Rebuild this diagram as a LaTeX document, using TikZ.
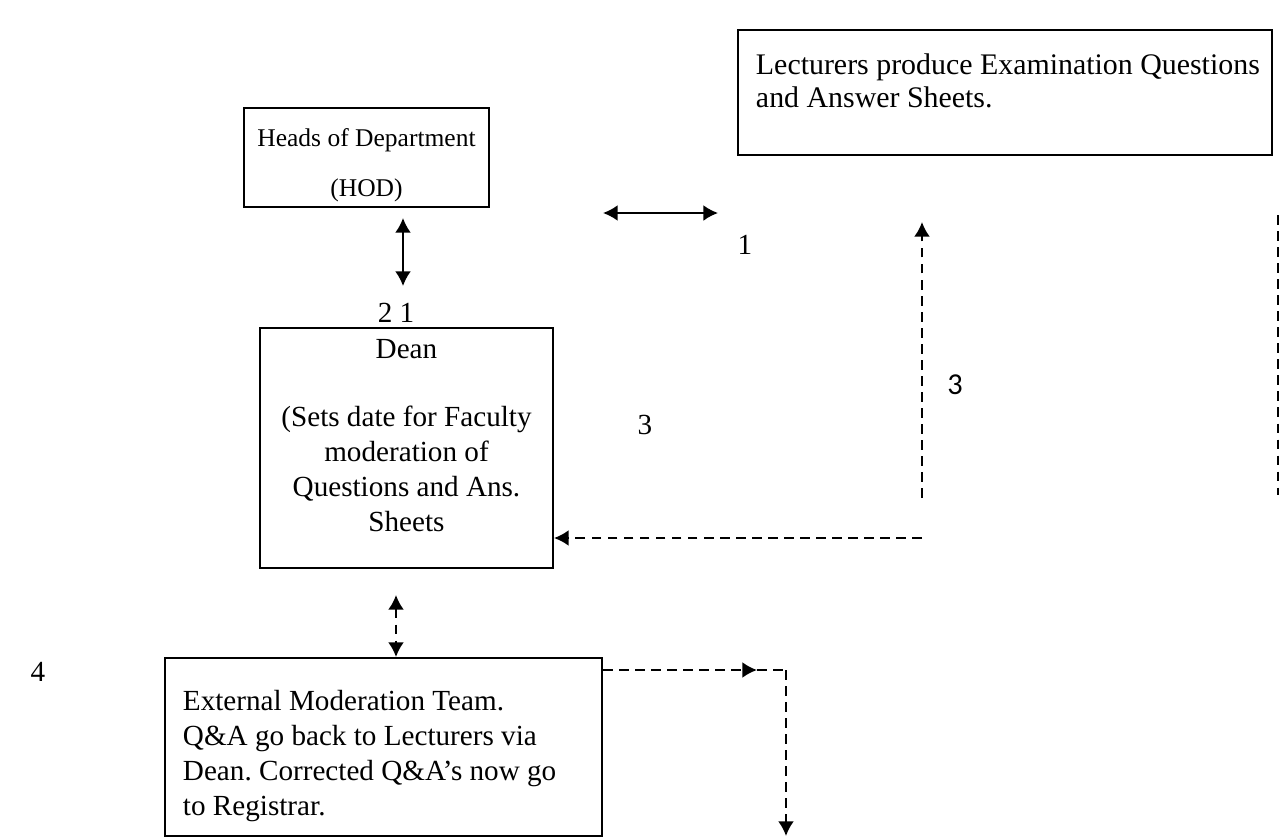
\documentclass[tikz,border=0pt]{standalone}
\usepackage{fontspec}
\setmainfont{Liberation Serif}
\newfontfamily\calib{Carlito}
\usetikzlibrary{positioning, arrows.meta}
\newcommand{\px}{0.4115pt}

\begin{document}
\begin{tikzpicture}[x=\px, y=-\px, line width=0.8pt, >={Latex[length=6pt,width=6.5pt]},
               font=\fontsize{12}{14.4}\selectfont,
               box/.style ={draw, inner sep=0pt},
               txt/.style ={inner sep=0pt},
               dashline/.style ={line width=0.9pt, dash pattern=on 4pt off 2.6pt},
               num/.style ={inner sep=0pt}]

           \useasboundingbox (0,0) rectangle (1280,838);

           %cajas
           \node[box, minimum width=245*\px, minimum height=99*\px] (hod) at (366.5,157.5) {};
           \node[txt, align=center, font=\fontsize{10.5}{12.6}\selectfont] (hodtxt) at (366.5,165) {Heads of Department\\[8pt](HOD)};

           \node[box, minimum width=534*\px, minimum height=125*\px] (lect) at (1005,92.5) {};
           \node[txt, align=left, anchor=west, font=\fontsize{12.3}{13.6}\selectfont] (lecttxt) at (755,80.5) {Lecturers produce Examination Questions\\and Answer Sheets.};

           \node[box, minimum width=293*\px, minimum height=240*\px] (dean) at (406.5,448) {};
           \node[txt, align=center] (deantxt) at (406.5,436) {Dean\\[13.6pt](Sets date for Faculty\\moderation of\\Questions and Ans.\\Sheets};

           \node[box, minimum width=437*\px, minimum height=178*\px] (ext) at (383.5,747) {};
           \node[txt, align=left, anchor=west, font=\frenchspacing\fontsize{12}{14.4}\selectfont] (exttxt) at (182,756) {External Moderation Team.\\Q\&A go back to Lecturers via\\Dean. Corrected Q\&A’s now go\\to Registrar.};

           %flechas
           \coordinate (a1w) at (603,213);
           \coordinate (a1e) at (718,213);
           \draw[<->] (a1w) -- (a1e);
           \node[num] (n1) at (745,245) {1};

           \coordinate (a2n) at (403,218);
           \coordinate (a2s) at (403,286);
           \draw[<->] (a2n) -- (a2s);
           \node[num] (n21) at (396,313) {2 1};

           \coordinate (d3b) at (922,498);
           \coordinate (d3t) at (922,222);
           \draw[dashline, ->] (d3b) -- (d3t);
           \coordinate (h3e) at (922,538);
           \draw[dashline, ->] (h3e) -- (h3e -| dean.east);
           \node[num, font=\calib\fontsize{12.5}{14}\selectfont] (n3a) at (955,385) {3};
           \node[num] (n3b) at (645,425) {3};

           \coordinate (rt) at (1278,215);
           \coordinate (rb) at (1278,495);
           \draw[dashline] (rt) -- (rb);

           \coordinate (a4n) at (396,595);
           \coordinate (a4s) at (396,657);
           \draw[dashline, <->] (a4n) -- (a4s);
           \node[num] (n4) at (38,672) {4};

           \coordinate (e1) at (757,670);
           \coordinate (e2) at (786,670);
           \coordinate (e3) at (786,836);
           \draw[dashline, ->] (ext.east |- e1) -- (e1);
           \draw[dashline] (e1) -- (e2);
           \draw[dashline, ->] (e2) -- (e3);

       \end{tikzpicture}
\end{document}
